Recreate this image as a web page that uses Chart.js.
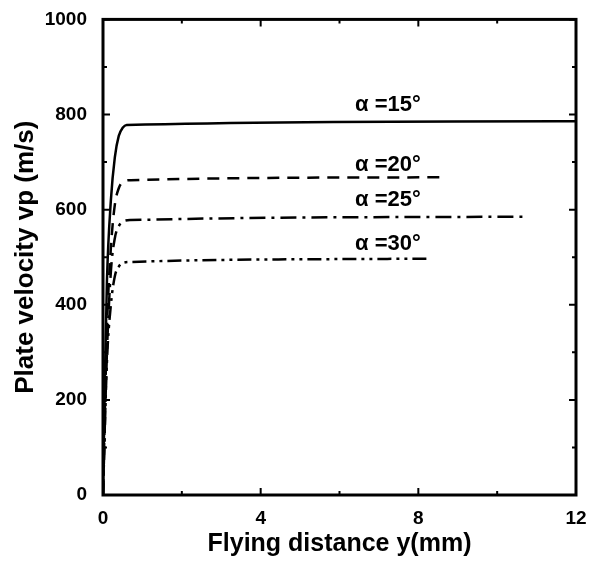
<!DOCTYPE html>
<html>
<head>
<meta charset="utf-8">
<script src="https://cdn.jsdelivr.net/npm/chart.js@4/dist/chart.umd.min.js"></script>
<style>
  body { margin: 0; background: #fff; }
  canvas { display: block; }
</style>
</head>
<body>
<canvas id="velocityChart" width="599" height="563"></canvas>
<script>
// Plate velocity vs flying distance for four collision angles
const seriesNames = ["α =15°", "α =20°", "α =25°", "α =30°"];
const x15 = [0, 0.05, 0.1, 0.2, 0.3, 0.4, 0.5, 0.6, 12];
const v15 = [0, 250, 450, 620, 710, 755, 772, 778, 786];
const x20 = [0, 0.1, 0.2, 0.3, 0.4, 0.5, 0.7, 8.73];
const v20 = [0, 350, 520, 610, 645, 658, 662, 668];
const x25 = [0, 0.1, 0.2, 0.3, 0.4, 0.5, 0.7, 10.66];
const v25 = [0, 300, 470, 540, 565, 575, 578, 585];
const x30 = [0, 0.1, 0.2, 0.3, 0.4, 0.5, 0.7, 8.25];
const v30 = [0, 280, 400, 460, 480, 488, 490, 497];
const dashes = [[], [12, 8], [16, 6, 3, 6], [14, 5, 3, 5, 3, 5]];
// label anchor positions (data coords)
const labelX = [7.23, 7.23, 7.23, 7.23];
const labelY = [820, 693, 620, 528];

const xTicks = [0, 4, 8, 12];
const yTicks = [0, 200, 400, 600, 800, 1000];

const FONT = "'Liberation Sans', Arial, sans-serif";

function pts(xs, ys) {
  return xs.map((x, i) => ({ x: x, y: ys[i] }));
}
const allX = [x15, x20, x25, x30];
const allV = [v15, v20, v25, v30];

// frame, inward tick marks and curve labels
const framePlugin = {
  id: "frame",
  afterDraw(chart) {
    const ctx = chart.ctx;
    const a = chart.chartArea;
    const xs = chart.scales.x;
    const ys = chart.scales.y;
    ctx.save();
    ctx.strokeStyle = "#000";
    ctx.lineWidth = 3;
    ctx.strokeRect(a.left, a.top, a.right - a.left, a.bottom - a.top);
    ctx.lineWidth = 2;
    for (let v = 0; v <= 12; v += 2) {
      const px = xs.getPixelForValue(v);
      const len = v % 4 === 0 ? 7 : 4;
      ctx.beginPath();
      ctx.moveTo(px, a.bottom); ctx.lineTo(px, a.bottom - len);
      ctx.moveTo(px, a.top); ctx.lineTo(px, a.top + len);
      ctx.stroke();
    }
    for (let v = 0; v <= 1000; v += 100) {
      const py = ys.getPixelForValue(v);
      const len = v % 200 === 0 ? 7 : 4;
      ctx.beginPath();
      ctx.moveTo(a.left, py); ctx.lineTo(a.left + len, py);
      ctx.moveTo(a.right, py); ctx.lineTo(a.right - len, py);
      ctx.stroke();
    }
    ctx.fillStyle = "#000";
    ctx.font = "bold 22px " + FONT;
    ctx.textAlign = "center";
    ctx.textBaseline = "middle";
    seriesNames.forEach((name, i) => {
      ctx.fillText(name, xs.getPixelForValue(labelX[i]), ys.getPixelForValue(labelY[i]));
    });
    ctx.restore();
  }
};

const ctx = document.getElementById("velocityChart").getContext("2d");
new Chart(ctx, {
  type: "scatter",
  data: {
    datasets: seriesNames.map((name, i) => ({
      label: name,
      data: pts(allX[i], allV[i]),
      showLine: true,
      borderColor: "#000",
      borderWidth: 2.5,
      borderDash: dashes[i],
      pointRadius: 0,
      cubicInterpolationMode: "monotone",
      fill: false
    }))
  },
  options: {
    responsive: false,
    animation: false,
    layout: { padding: { top: 16, right: 23, left: 0, bottom: 0 } },
    plugins: {
      legend: { display: false },
      tooltip: { enabled: false }
    },
    scales: {
      x: {
        type: "linear",
        min: 0,
        max: 12,
        afterBuildTicks: (s) => { s.ticks = xTicks.map(v => ({ value: v })); },
        grid: { display: false },
        border: { display: false },
        ticks: {
          color: "#000",
          padding: 4,
          callback: (v) => String(v),
          font: { family: FONT, size: 19, weight: "bold" }
        },
        title: {
          display: true,
          text: "Flying distance y(mm)",
          color: "#000",
          padding: { top: 6 },
          font: { family: FONT, size: 25, weight: "bold" }
        },
        afterFit: (s) => { s.height = 68; }
      },
      y: {
        type: "linear",
        min: 0,
        max: 1000,
        afterBuildTicks: (s) => { s.ticks = yTicks.map(v => ({ value: v })); },
        grid: { display: false },
        border: { display: false },
        ticks: {
          color: "#000",
          padding: 8,
          callback: (v) => String(v),
          font: { family: FONT, size: 19, weight: "bold" }
        },
        title: {
          display: true,
          text: "Plate velocity vp (m/s)",
          color: "#000",
          padding: { top: 10, bottom: 4 },
          font: { family: FONT, size: 26, weight: "bold" }
        },
        afterFit: (s) => { s.width = 103; }
      }
    }
  },
  plugins: [framePlugin]
});
</script>
</body>
</html>
